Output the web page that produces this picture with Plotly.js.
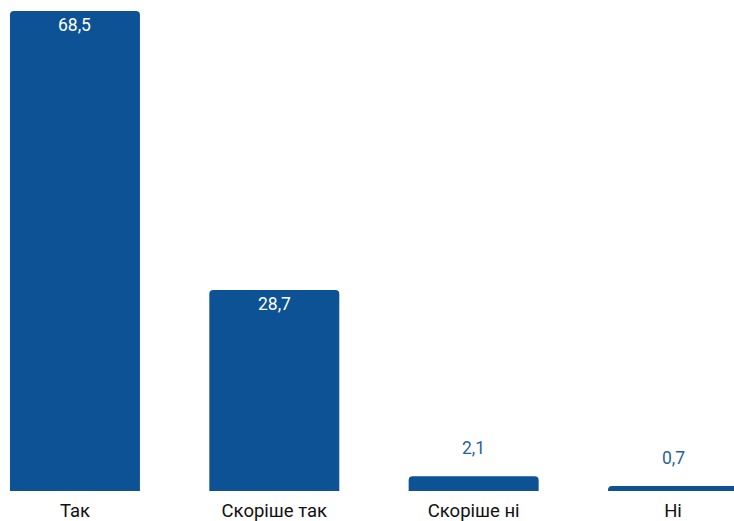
<!DOCTYPE html>
<html><head><meta charset="utf-8">
<script src="https://cdn.plot.ly/plotly-3.0.1.min.js"></script>
<style>html,body{margin:0;padding:0;background:#fff}#c{width:734px;height:521px}</style>
</head><body><div id="c"></div>
<script>
const categories = ["Так", "Скоріше так", "Скоріше ні", "Ні"];
const values = [68.5, 28.7, 2.1, 0.7];
const valueLabels = ["68,5", "28,7", "2,1", "0,7"];

const barColor = "#0c5294";
const insideThreshold = 10;

const annotations = categories.map((c, i) => {
  const inside = values[i] >= insideThreshold;
  return {
    x: c, y: values[i], xref: "x", yref: "y",
    text: valueLabels[i], showarrow: false,
    yanchor: "middle",
    yshift: inside ? -14 : 28,
    font: {family: "Roboto", size: 17.5, color: inside ? "#ffffff" : "#2a5f9e"}
  };
});

Plotly.newPlot("c", [{
  type: "bar", x: categories, y: values,
  marker: {color: barColor, line: {width: 0}},
  width: 0.652, hoverinfo: "none"
}], {
  width: 734, height: 521,
  margin: {l: 0, r: 0, t: 0, b: 30, pad: 0},
  paper_bgcolor: "#fff", plot_bgcolor: "#fff",
  barcornerradius: 4,
  showlegend: false,
  xaxis: {range: [-0.376, 3.306], showgrid: false, zeroline: false, showline: false,
          ticks: "", tickfont: {family: "Roboto", size: 18.5, color: "#111"}, ticklabelstandoff: 6},
  yaxis: {range: [0, 70.07], visible: false, fixedrange: true},
  annotations: annotations
}, {staticPlot: true});
</script></body></html>
